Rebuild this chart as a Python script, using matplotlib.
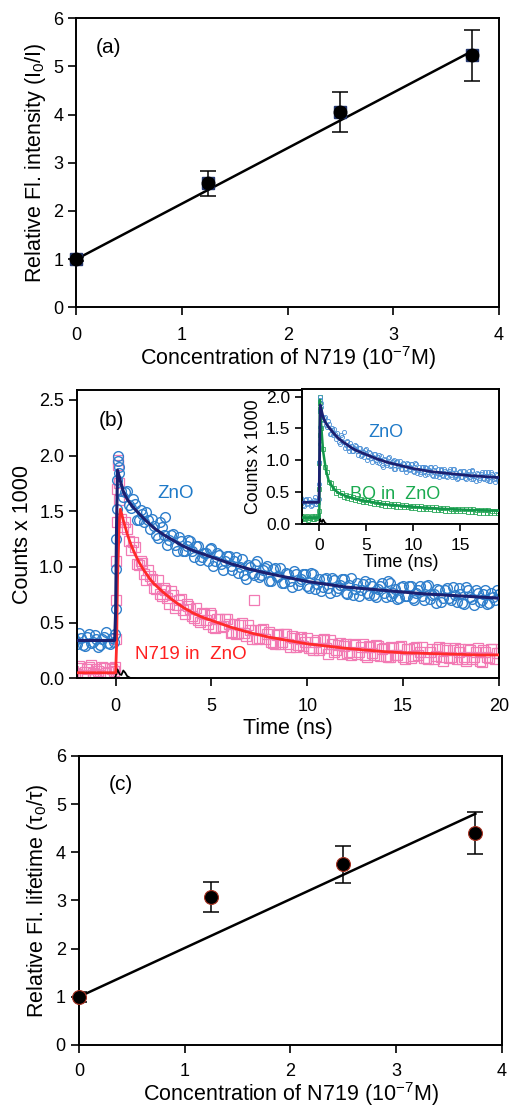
import numpy as np
import matplotlib
matplotlib.use("Agg")
import matplotlib.pyplot as plt

plt.rcParams['font.family'] = ['Liberation Sans', 'DejaVu Sans']
plt.rcParams['mathtext.default'] = 'regular'

# ---- panel (a) / (c): Stern-Volmer data ----
conc = [0.0, 1.25, 2.5, 3.75]
rel_int = [1.0, 2.57, 4.05, 5.23]
rel_int_err = [0.05, 0.26, 0.41, 0.53]
rel_int_fit = [1.0, 5.32]
rel_life = [1.0, 3.08, 3.75, 4.40]
rel_life_err = [0.1, 0.31, 0.38, 0.44]
rel_life_fit = [1.0, 4.80]
fit_x = [0.0, 3.75]

# ---- panel (b): decay traces (counts x 1000) ----
t_pre = np.round(np.arange(-2.2, -0.19, 0.1), 2)      # detector channels
t_rise = [-0.1, -0.05, 0.0, 0.02, 0.04, 0.06, 0.08, 0.1, 0.12, 0.15]
t_decay = np.round(np.arange(0.2, 20.01, 0.2), 2)
t_decay_half = np.round(np.arange(0.3, 19.91, 0.2), 2)

zno_pre = [0.38, 0.34, 0.31, 0.41, 0.36, 0.30, 0.29, 0.37, 0.40, 0.32, 0.33,
           0.39, 0.35, 0.28, 0.30, 0.35, 0.37, 0.42, 0.32, 0.31, 0.36]
zno_rise = [0.33, 0.40, 0.62, 0.98, 1.25, 1.52, 1.78, 1.95, 2.00, 1.90]
zno_decay = [1.84, 1.63, 1.68, 1.53, 1.57, 1.42, 1.48, 1.49, 1.34, 1.37,
             1.26, 1.36, 1.45, 1.24, 1.30, 1.14, 1.23, 1.14, 1.24, 1.14,
             1.19, 1.06, 1.13, 1.05, 1.17, 1.05, 1.11, 0.97, 1.10, 1.01,
             1.05, 0.95, 1.07, 0.89, 1.00, 0.93, 1.05, 0.93, 0.99, 0.87,
             0.98, 0.91, 0.99, 0.86, 0.94, 0.82, 0.94, 0.87, 0.94, 0.83,
             0.95, 0.80, 0.89, 0.82, 0.90, 0.77, 0.88, 0.81, 0.89, 0.77,
             0.84, 0.75, 0.86, 0.79, 0.87, 0.75, 0.83, 0.73, 0.83, 0.77,
             0.87, 0.74, 0.80, 0.72, 0.83, 0.74, 0.83, 0.70, 0.79, 0.74,
             0.83, 0.71, 0.76, 0.80, 0.69, 0.79, 0.72, 0.82, 0.69, 0.76,
             0.67, 0.79, 0.71, 0.79, 0.69, 0.76, 0.67, 0.77, 0.70, 0.76]
zno_decay_half = [1.68, 1.67, 1.56, 1.61, 1.42, 1.51, 1.40, 1.42, 1.43, 1.29,
                  1.40, 1.29, 1.20, 1.29, 1.20, 1.27, 1.14, 1.19, 1.23, 1.09,
                  1.19, 1.09, 1.13, 1.16, 1.01, 1.13, 1.03, 1.05, 1.10, 0.97,
                  1.09, 1.00, 0.93, 1.02, 0.95, 1.03, 0.91, 0.97, 1.01, 0.87,
                  0.99, 0.92, 0.86, 0.95, 0.87, 0.96, 0.84, 0.89, 0.94, 0.81,
                  0.94, 0.85, 0.78, 0.89, 0.81, 0.90, 0.78, 0.84, 0.89, 0.76,
                  0.90, 0.80, 0.74, 0.85, 0.77, 0.86, 0.75, 0.80, 0.86, 0.73,
                  0.86, 0.77, 0.71, 0.82, 0.74, 0.83, 0.72, 0.77, 0.83, 0.70,
                  0.84, 0.75, 0.68, 0.79, 0.72, 0.81, 0.70, 0.75, 0.81, 0.68,
                  0.82, 0.73, 0.66, 0.77, 0.70, 0.79, 0.68, 0.73, 0.79]

n719_pre = [0.07, 0.05, 0.04, 0.11, 0.09, 0.03, 0.06, 0.08, 0.10, 0.12, 0.05,
            0.04, 0.08, 0.07, 0.03, 0.10, 0.09, 0.05, 0.06, 0.09, 0.08]
n719_rise = [0.07, 0.10, 0.35, 0.70, 1.05, 1.40, 1.70, 1.92, 1.96, 1.75]
n719_decay = [1.60, 1.36, 1.34, 1.15, 1.18, 1.02, 1.04, 0.88, 0.92, 0.81,
              0.88, 0.74, 0.79, 0.67, 0.75, 0.66, 0.71, 0.58, 0.65, 0.56,
              0.63, 0.51, 0.58, 0.49, 0.57, 0.45, 0.53, 0.47, 0.53, 0.41,
              0.49, 0.41, 0.50, 0.38, 0.43, 0.70, 0.35, 0.43, 0.35, 0.42,
              0.32, 0.39, 0.31, 0.40, 0.31, 0.38, 0.28, 0.35, 0.29, 0.36,
              0.27, 0.33, 0.25, 0.34, 0.27, 0.34, 0.24, 0.30, 0.22, 0.31,
              0.24, 0.31, 0.22, 0.28, 0.21, 0.29, 0.23, 0.30, 0.20, 0.27,
              0.19, 0.28, 0.21, 0.28, 0.19, 0.26, 0.18, 0.27, 0.21, 0.28,
              0.18, 0.24, 0.17, 0.26, 0.19, 0.27, 0.18, 0.25, 0.17, 0.26,
              0.19, 0.26, 0.17, 0.24, 0.16, 0.25, 0.19, 0.26, 0.17, 0.23]
n719_decay_half = [1.43, 1.40, 1.23, 1.22, 1.03, 1.05, 0.94, 0.97, 0.89, 0.80,
                   0.76, 0.81, 0.72, 0.78, 0.63, 0.70, 0.61, 0.67, 0.62, 0.54,
                   0.52, 0.59, 0.52, 0.59, 0.46, 0.53, 0.46, 0.53, 0.49, 0.42,
                   0.40, 0.48, 0.41, 0.48, 0.35, 0.43, 0.36, 0.44, 0.40, 0.33,
                   0.31, 0.40, 0.33, 0.40, 0.28, 0.36, 0.30, 0.37, 0.33, 0.27,
                   0.25, 0.34, 0.27, 0.35, 0.22, 0.31, 0.25, 0.32, 0.29, 0.23,
                   0.21, 0.30, 0.24, 0.31, 0.19, 0.28, 0.21, 0.29, 0.26, 0.20,
                   0.19, 0.27, 0.21, 0.29, 0.17, 0.26, 0.20, 0.28, 0.24, 0.18,
                   0.17, 0.26, 0.20, 0.28, 0.16, 0.25, 0.19, 0.27, 0.24, 0.17,
                   0.16, 0.25, 0.19, 0.27, 0.15, 0.24, 0.18, 0.26, 0.23]

bq_pre = [0.11, 0.09, 0.08, 0.12, 0.12, 0.10, 0.09, 0.08, 0.11, 0.13, 0.07,
          0.09, 0.10, 0.11, 0.12, 0.08, 0.08, 0.12, 0.11, 0.09, 0.10]
bq_rise = [0.12, 0.20, 0.55, 0.95, 1.40, 1.80, 2.00, 1.90, 1.78, 1.65]
bq_decay = [1.50, 1.18, 0.90, 0.81, 0.66, 0.64, 0.56, 0.56, 0.49, 0.51,
            0.46, 0.48, 0.43, 0.46, 0.41, 0.44, 0.39, 0.42, 0.37, 0.41,
            0.36, 0.39, 0.35, 0.38, 0.34, 0.37, 0.33, 0.36, 0.32, 0.35,
            0.31, 0.34, 0.30, 0.33, 0.29, 0.33, 0.29, 0.32, 0.28, 0.31,
            0.27, 0.31, 0.27, 0.30, 0.26, 0.30, 0.26, 0.29, 0.25, 0.29,
            0.25, 0.28, 0.24, 0.28, 0.24, 0.27, 0.23, 0.27, 0.23, 0.26,
            0.22, 0.26, 0.22, 0.25, 0.22, 0.25, 0.21, 0.25, 0.21, 0.24,
            0.21, 0.24, 0.20, 0.24, 0.20, 0.24, 0.20, 0.23, 0.19, 0.23,
            0.19, 0.23, 0.19, 0.22, 0.18, 0.22, 0.18, 0.22, 0.18, 0.22,
            0.18, 0.21, 0.17, 0.21, 0.17, 0.21, 0.17, 0.21, 0.17, 0.20]

# fitted curves
t_fit_zno = [-2.2, -0.05, 0.0, 0.05, 0.1, 0.2, 0.4, 0.6, 0.8, 1.0, 1.5, 2.0,
             2.5, 3.0, 3.5, 4.0, 4.5, 5.0, 6, 7, 8, 9, 10, 11, 12, 13, 14,
             15, 16, 17, 18, 19, 20]
fit_zno = [0.34, 0.34, 0.60, 1.40, 1.87, 1.80, 1.68, 1.61, 1.56, 1.52, 1.43,
           1.35, 1.29, 1.24, 1.19, 1.15, 1.12, 1.09, 1.03, 0.98, 0.94, 0.905,
           0.87, 0.845, 0.82, 0.805, 0.79, 0.775, 0.76, 0.75, 0.74, 0.73, 0.72]
t_fit_n719 = [-2.2, 0.0, 0.05, 0.1, 0.2, 0.25, 0.4, 0.6, 0.8, 1.0, 1.2, 1.4,
              1.6, 1.8, 2.0, 2.5, 3, 3.5, 4, 4.5, 5, 6, 7, 8, 9, 10, 11, 12,
              13, 14, 15, 16, 17, 18, 19, 20]
fit_n719 = [0.05, 0.05, 0.30, 0.90, 1.45, 1.52, 1.42, 1.30, 1.20, 1.12, 1.05,
            0.99, 0.94, 0.89, 0.85, 0.77, 0.70, 0.64, 0.59, 0.55, 0.52, 0.46,
            0.41, 0.37, 0.34, 0.31, 0.29, 0.27, 0.255, 0.24, 0.23, 0.225,
            0.22, 0.215, 0.21, 0.21]
t_fit_bq = [-2.2, 0.0, 0.03, 0.06, 0.2, 0.4, 0.7, 1.0, 1.5, 2, 3, 4, 5, 7,
            10, 13, 16, 19, 20]
fit_bq = [0.10, 0.10, 1.0, 1.95, 1.55, 1.15, 0.85, 0.68, 0.56, 0.49, 0.43,
          0.39, 0.36, 0.31, 0.27, 0.24, 0.22, 0.21, 0.20]
t_irf = [-2.2, -0.05, 0.0, 0.1, 0.2, 0.3, 0.4, 0.5, 0.6, 0.8, 1.0]
irf = [0.0, 0.0, 0.02, 0.08, 0.04, 0.03, 0.07, 0.05, 0.02, 0.0, 0.0]

t_all = np.concatenate([t_pre, t_rise, t_decay, t_decay_half])
zno = np.concatenate([zno_pre, zno_rise, zno_decay, zno_decay_half])
n719 = np.concatenate([n719_pre, n719_rise, n719_decay, n719_decay_half])
t_bq = np.concatenate([t_pre, t_rise, t_decay])
bq = np.concatenate([bq_pre, bq_rise, bq_decay])

# colours
blue_pts = '#2f7fcc'
navy = '#1b2070'
pink = '#f27ab4'
red = '#ff2a2a'
green_pts = '#2aa85a'
green_fit = '#13974a'

LAB = 15.5
TCK = 13


def style(ax, xpad=8):
    for s in ax.spines.values():
        s.set_linewidth(1.4)
    ax.tick_params(direction='out', length=6, width=1.2, labelsize=TCK,
                   top=False, right=False)
    ax.tick_params(axis='x', pad=xpad)


fig = plt.figure(figsize=(5.1, 11.12), dpi=100)

# ---------------- (a) ----------------
ax_a = fig.add_axes([0.150, 0.7237, 0.828, 0.2599])
ax_a.plot(fit_x, rel_int_fit, color='black', lw=1.8, zorder=2)
ax_a.errorbar(conc, rel_int, yerr=rel_int_err, fmt='none', ecolor='black',
              elinewidth=1.1, capsize=6, capthick=1.1, zorder=3)
ax_a.plot(conc, rel_int, 's', color='#23366e', ms=9, zorder=4, clip_on=False)
ax_a.plot(conc, rel_int, 'o', color='black', ms=9, zorder=5, clip_on=False)
ax_a.set_xlim(0, 4)
ax_a.set_ylim(0, 6)
ax_a.set_xticks([0, 1, 2, 3, 4])
ax_a.set_yticks(range(7))
ax_a.set_xlabel('Concentration of N719 (10$^{-7}$M)', fontsize=LAB,
                labelpad=0)
ax_a.set_ylabel('Relative Fl. intensity (I$_0$/I)', fontsize=LAB)
ax_a.text(0.045, 0.90, '(a)', transform=ax_a.transAxes, fontsize=15,
          va='center')
style(ax_a)

# ---------------- (b) ----------------
ax_b = fig.add_axes([0.1516, 0.390, 0.8264, 0.2593])
ax_b.plot(t_all, n719, 's', mfc='none', mec=pink, ms=6.5, mew=0.9, zorder=1)
ax_b.plot(t_all, zno, 'o', mfc='none', mec=blue_pts, ms=7, mew=1.0,
          zorder=2)
ax_b.plot(t_irf, irf, color='black', lw=1.3, zorder=3)
ax_b.plot(t_fit_n719, fit_n719, color=red, lw=2.0, zorder=4)
ax_b.plot(t_fit_zno, fit_zno, color=navy, lw=2.2, zorder=5)
ax_b.set_xlim(-2, 20)
ax_b.set_ylim(0, 2.59)
ax_b.set_xticks([0, 5, 10, 15, 20])
ax_b.set_yticks([0, 0.5, 1.0, 1.5, 2.0, 2.5])
ax_b.set_yticklabels(['0.0', '0.5', '1.0', '1.5', '2.0', '2.5'])
ax_b.set_xlabel('Time (ns)', fontsize=LAB, labelpad=2)
ax_b.set_ylabel('Counts x 1000', fontsize=LAB)
ax_b.text(-0.9, 2.32, '(b)', fontsize=15, va='center')
ax_b.text(2.2, 1.66, 'ZnO', color='#1f7ac8', fontsize=13.5, va='center')
ax_b.text(1.0, 0.21, 'N719 in  ZnO', color='#ff2020', fontsize=13.5,
          va='center')
style(ax_b)

# inset
ax_in = fig.add_axes([0.592, 0.5288, 0.386, 0.1214])
ax_in.plot(t_bq, bq, 's', mfc='none', mec=green_pts, ms=2.8, mew=0.6,
           zorder=1)
ax_in.plot(t_all, zno, 'o', mfc='none', mec='#4a8fd6', ms=3, mew=0.6,
           zorder=2)
ax_in.plot(t_irf, irf, color='black', lw=1.2, zorder=3)
ax_in.plot(t_fit_bq, fit_bq, color=green_fit, lw=1.8, zorder=4)
ax_in.plot(t_fit_zno, fit_zno, color=navy, lw=2.0, zorder=5)
ax_in.set_xlim(-1.85, 19.1)
ax_in.set_ylim(0, 2.12)
ax_in.set_xticks([0, 5, 10, 15])
ax_in.set_yticks([0, 0.5, 1.0, 1.5, 2.0])
ax_in.set_yticklabels(['0.0', '0.5', '1.0', '1.5', '2.0'])
ax_in.set_xlabel('Time (ns)', fontsize=13, labelpad=1)
ax_in.set_ylabel('Counts x 1000', fontsize=12.8, labelpad=3)
ax_in.text(5.2, 1.43, 'ZnO', color='#1f7ac8', fontsize=13, va='center')
ax_in.text(3.3, 0.47, 'BQ in  ZnO', color='#1aaa50', fontsize=13,
           va='center')
style(ax_in, xpad=5)
ax_in.tick_params(labelsize=12.5, length=5)

# ---------------- (c) ----------------
ax_c = fig.add_axes([0.155, 0.0603, 0.829, 0.2599])
ax_c.plot(fit_x, rel_life_fit, color='black', lw=1.8, zorder=2)
ax_c.errorbar(conc, rel_life, yerr=rel_life_err, fmt='none', ecolor='black',
              elinewidth=1.1, capsize=6, capthick=1.1, zorder=3)
ax_c.plot(conc, rel_life, 'o', mfc='black', mec='#a83222', mew=0.8, ms=10,
          zorder=4, clip_on=False)
ax_c.set_xlim(0, 4)
ax_c.set_ylim(0, 6)
ax_c.set_xticks([0, 1, 2, 3, 4])
ax_c.set_yticks(range(7))
ax_c.set_xlabel('Concentration of N719 (10$^{-7}$M)', fontsize=LAB,
                labelpad=0)
ax_c.set_ylabel(r'Relative Fl. lifetime ($\tau_0/\tau$)', fontsize=LAB)
ax_c.text(0.07, 0.90, '(c)', transform=ax_c.transAxes, fontsize=15,
          va='center')
style(ax_c, xpad=7)

fig.savefig('out.png', dpi=100)
